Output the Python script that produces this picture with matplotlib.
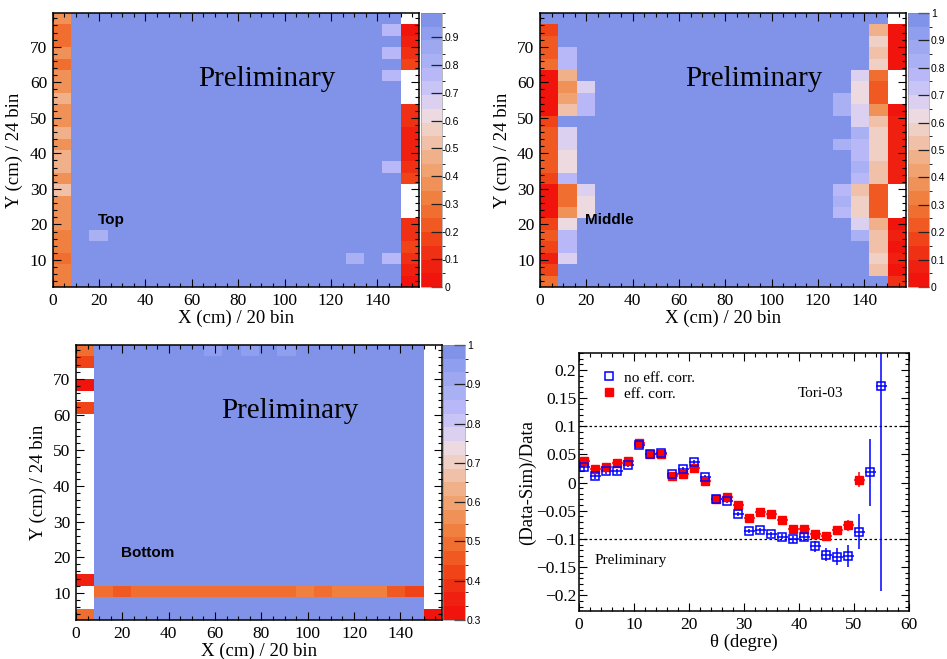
import numpy as np
import matplotlib
matplotlib.use("Agg")
import matplotlib.pyplot as plt
from matplotlib.colors import ListedColormap, BoundaryNorm
from matplotlib.ticker import MultipleLocator, FuncFormatter
from matplotlib.lines import Line2D

plt.rcParams['font.family'] = ['Liberation Serif', 'DejaVu Serif']

# map binning: 20 x 24 bins
x_edges = np.linspace(0, 158, 21)
y_edges = np.linspace(2.4, 79.5, 25)

# palette, 20 contour levels (low -> high)
palette = ['#f0140c', '#f02010', '#f03014', '#f04418', '#f05a22', '#f06e30',
           '#f08040', '#f09258', '#f0a270', '#f0b08a', '#f0c0a8', '#f0d0c4',
           '#ecdae0', '#dcd0f0', '#c8c4f6', '#b8b8f8', '#aab0f4', '#9ea8f0',
           '#909ef0', '#8093e8']

# ---- Top layer (rows bottom -> top, None = empty bin)
top_bg = 0.975
top_col0 = [0.33, 0.33, 0.28, 0.33, 0.33, 0.36, 0.36, 0.36, 0.51, 0.36, 0.45, 0.45,
            0.36, 0.45, 0.36, 0.36, 0.45, 0.36, 0.36, 0.28, 0.36, 0.28, 0.28, 0.36]
top_col19 = [0.03, 0.08, 0.12, 0.17, 0.10, 0.13, None, None, None, 0.17, 0.12, 0.05,
             0.05, 0.05, 0.10, 0.13, None, None, None, 0.17, 0.10, 0.08, 0.03, None]
top_cells = [(2, 4, 0.815), (16, 2, 0.815), (18, 2, 0.77), (18, 10, 0.77),
             (18, 18, 0.77), (18, 20, 0.77), (18, 22, 0.77)]

# ---- Middle layer
mid_bg = 0.97
mid_col0 = [0.28, 0.17, 0.08, 0.18, 0.24, 0.17, 0.02, 0.02, 0.02, 0.17, 0.24, 0.21,
            0.24, 0.21, 0.17, 0.02, 0.02, 0.02, 0.02, 0.28, 0.21, 0.21, 0.17, 0.97]
mid_col1 = [0.97, 0.97, 0.67, 0.77, 0.77, 0.62, 0.37, 0.28, 0.28, 0.77, 0.62, 0.62,
            0.67, 0.67, 0.97, 0.52, 0.42, 0.37, 0.47, 0.77, 0.77, 0.97, 0.97, 0.97]
mid_col17 = [0.97, 0.97, 0.97, 0.97, 0.82, 0.67, 0.58, 0.58, 0.52, 0.77, 0.82, 0.77,
             0.77, 0.82, 0.67, 0.67, 0.62, 0.62, 0.67, 0.97, 0.97, 0.97, 0.97, 0.97]
mid_col18 = [0.97, 0.52, 0.58, 0.52, 0.52, 0.47, 0.22, 0.22, 0.22, 0.52, 0.52, 0.57,
             0.57, 0.57, 0.52, 0.37, 0.22, 0.22, 0.28, 0.58, 0.52, 0.58, 0.47, 0.97]
mid_col19 = [0.10, 0.03, 0.08, 0.03, 0.08, 0.03, None, None, None, 0.07, 0.07, 0.07,
             0.07, 0.07, 0.07, 0.03, None, None, None, 0.02, 0.02, 0.02, 0.02, None]
mid_cells = [(2, 6, 0.62), (2, 7, 0.62), (2, 8, 0.67), (2, 15, 0.77), (2, 16, 0.77),
             (2, 17, 0.67), (16, 6, 0.77), (16, 7, 0.82), (16, 8, 0.77),
             (16, 12, 0.82), (16, 15, 0.82), (16, 16, 0.82)]

# ---- Bottom layer
bot_bg = 0.985
bot_col0 = [0.49, None, None, 0.36] + [None] * 14 + [0.42, None, 0.32, None, 0.42, 0.49]
bot_col19 = [0.32] + [None] * 23
bot_row2 = [0.49, 0.46, 0.49, 0.49, 0.49, 0.49, 0.49, 0.49, 0.49, 0.49, 0.49, 0.53,
            0.49, 0.53, 0.53, 0.53, 0.46, 0.42]   # columns 1..18
bot_cells = [(7, 23, 0.95), (9, 23, 0.95), (11, 23, 0.95)]

# ---- ratio plot
theta = np.arange(1, 57, 2)
no_corr = [0.027, 0.012, 0.020, 0.020, 0.032, 0.067, 0.050, 0.053, 0.015, 0.024,
           0.036, 0.010, -0.029, -0.032, -0.056, -0.086, -0.085, -0.092, -0.096,
           -0.101, -0.096, -0.113, -0.128, -0.132, -0.130, -0.087, 0.018, 0.172]
no_corr_err = [0.008, 0.005, 0.004, 0.004, 0.005, 0.004, 0.004, 0.004, 0.004, 0.004,
               0.004, 0.004, 0.004, 0.004, 0.004, 0.004, 0.004, 0.005, 0.005,
               0.006, 0.007, 0.010, 0.012, 0.015, 0.020, 0.031, 0.060, 0.365]
corr = [0.039, 0.024, 0.028, 0.034, 0.039, 0.070, 0.051, 0.050, 0.012, 0.016,
        0.026, 0.002, -0.029, -0.025, -0.040, -0.062, -0.053, -0.056, -0.067,
        -0.082, -0.083, -0.091, -0.094, -0.085, -0.076, 0.005]
corr_err = [0.005, 0.004, 0.004, 0.004, 0.004, 0.004, 0.004, 0.004, 0.004, 0.004,
            0.004, 0.004, 0.004, 0.004, 0.004, 0.004, 0.004, 0.004, 0.004,
            0.004, 0.004, 0.005, 0.006, 0.008, 0.010, 0.013]

cmap = ListedColormap(palette)
cmap.set_bad('white')


def build_map(bg, cols, cells, rows=None):
    z = np.full((24, 20), bg)
    for c, vals in cols.items():
        z[:, c] = [np.nan if v is None else v for v in vals]
    if rows:
        for r, vals in rows.items():
            z[r, 1:1 + len(vals)] = vals
    for c, r, v in cells:
        z[r, c] = v
    return np.ma.masked_invalid(z)


def fmt(v, pos):
    v = round(v, 4)
    if v == 0:
        return '0'
    return f'{v:g}'.replace('-', '\u2212')


def style_axes(ax):
    for s in ax.spines.values():
        s.set_linewidth(1.1)
    ax.tick_params(which='both', direction='in', top=True, right=True,
                   labelsize=12.5, width=0.8, pad=4)
    ax.tick_params(which='major', length=5.5)
    ax.tick_params(which='minor', length=2.8)


def draw_map(fig, rect, cbrect, z, vmin, vmax, ticks, tag, ylab_x):
    ax = fig.add_axes(rect)
    norm = BoundaryNorm(np.linspace(vmin, vmax, 21), cmap.N)
    mesh = ax.pcolormesh(x_edges, y_edges, z, cmap=cmap, norm=norm,
                         edgecolors='none', antialiased=False)
    ax.set_xlim(0, 158)
    ax.set_ylim(2.4, 79.5)
    ax.xaxis.set_major_locator(MultipleLocator(20))
    ax.xaxis.set_minor_locator(MultipleLocator(5))
    ax.yaxis.set_major_locator(MultipleLocator(10))
    ax.yaxis.set_minor_locator(MultipleLocator(2))
    style_axes(ax)
    ax.set_xlabel('X (cm) / 20 bin', fontsize=13.5)
    ax.set_ylabel('Y (cm) / 24 bin', fontsize=13.5)
    ax.xaxis.set_label_coords(0.5, -0.083)
    ax.yaxis.set_label_coords(ylab_x, 0.5)
    ax.text(62.6, 61, 'Preliminary', fontsize=21, ha='left', va='center')
    ax.text(19.5, 21.3, tag, fontsize=11, fontweight='bold',
            family=['Liberation Sans', 'DejaVu Sans'], ha='left', va='center')

    cax = fig.add_axes(cbrect)
    cb = fig.colorbar(mesh, cax=cax, ticks=ticks)
    cb.outline.set_linewidth(0.4)
    cb.outline.set_edgecolor('#888888')
    cb.ax.yaxis.set_major_formatter(FuncFormatter(fmt))
    cb.ax.tick_params(direction='in', length=8, width=0.9, pad=1.5,
                      labelsize=7.5, color='#222222')
    for t in cb.ax.get_yticklabels():
        t.set_family(['Liberation Sans', 'DejaVu Sans'])
    return ax


fig = plt.figure(figsize=(9.47, 6.59), dpi=100)

z_top = build_map(top_bg, {0: top_col0, 19: top_col19}, top_cells)
z_mid = build_map(mid_bg, {0: mid_col0, 1: mid_col1, 17: mid_col17,
                           18: mid_col18, 19: mid_col19}, mid_cells)
z_bot = build_map(bot_bg, {0: bot_col0, 19: bot_col19}, bot_cells, {2: bot_row2})

draw_map(fig, [0.0557, 0.5645, 0.3868, 0.4158], [0.4446, 0.5645, 0.0222, 0.4158],
         z_top, 0.0, 0.988, np.arange(0, 0.95, 0.1), 'Top', -0.082)
draw_map(fig, [0.5702, 0.5645, 0.3865, 0.4158], [0.9585, 0.5645, 0.0225, 0.4158],
         z_mid, 0.0, 1.0, np.arange(0, 1.05, 0.1), 'Middle', -0.078)
draw_map(fig, [0.0803, 0.0592, 0.3865, 0.4173], [0.4678, 0.0592, 0.0232, 0.4173],
         z_bot, 0.3, 1.0, np.arange(0.3, 1.05, 0.1), 'Bottom', -0.078)

# ratio panel
ax = fig.add_axes([0.6114, 0.0728, 0.3482, 0.3915])
ax.axhline(0.1, color='black', ls=(0, (2, 2)), lw=0.9)
ax.axhline(-0.1, color='black', ls=(0, (2, 2)), lw=0.9)
ax.errorbar(theta[:len(corr)], corr, yerr=corr_err, xerr=1, fmt='s', ms=5.5,
            color='red', mec='red', mfc='red', elinewidth=1.1, capsize=0,
            label='eff. corr.')
ax.errorbar(theta, no_corr, yerr=no_corr_err, xerr=1, fmt='s', ms=6,
            color='blue', mec='blue', mfc='none', mew=1.1, elinewidth=1.1,
            capsize=0, label='no eff. corr.')
ax.set_xlim(0, 60)
ax.set_ylim(-0.228, 0.23)
ax.xaxis.set_major_locator(MultipleLocator(10))
ax.xaxis.set_minor_locator(MultipleLocator(2))
ax.yaxis.set_major_locator(MultipleLocator(0.05))
ax.yaxis.set_minor_locator(MultipleLocator(0.01))
ax.yaxis.set_major_formatter(FuncFormatter(fmt))
style_axes(ax)
ax.tick_params(axis='y', pad=2)
ax.set_xlabel('\u03b8 (degre)', fontsize=13.5)
ax.set_ylabel('(Data-Sim)/Data', fontsize=13.5)
ax.xaxis.set_label_coords(0.5, -0.088)
ax.yaxis.set_label_coords(-0.13, 0.5)

handles = [Line2D([], [], ls='none', marker='s', ms=5.5, mfc='none', mec='blue', mew=1.1),
           Line2D([], [], ls='none', marker='s', ms=5.5, mfc='red', mec='red')]
ax.legend(handles, ['no eff. corr.', 'eff. corr.'], loc='upper left',
          bbox_to_anchor=(0.045, 0.96), frameon=False, fontsize=11,
          handlelength=1.0, handletextpad=0.5, labelspacing=0.15, borderpad=0)
ax.text(39.8, 0.159, 'Tori-03', fontsize=11, ha='left', va='center')
ax.text(2.9, -0.139, 'Preliminary', fontsize=11, ha='left', va='center')

fig.savefig('out.png', dpi=100)
